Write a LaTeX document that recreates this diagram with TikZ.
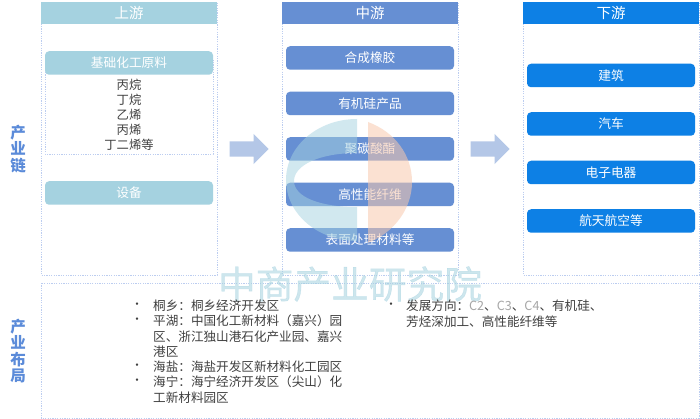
\documentclass[tikz,border=0pt]{standalone}
\usepackage{fontspec}
\setmainfont{Noto Sans CJK SC}
\newfontfamily\wmfont[FakeBold=0.8]{Noto Sans CJK SC}
\usetikzlibrary{shapes.arrows}
\definecolor{cUp}{HTML}{A5D2E0}
\definecolor{cMid}{HTML}{668FD3}
\definecolor{cDown}{HTML}{0D80E5}
\definecolor{cDash}{HTML}{BCCDF0}
\definecolor{cArrow}{HTML}{B4C7E7}
\definecolor{cSide}{HTML}{5B8BD9}
\definecolor{cText}{HTML}{404040}
\definecolor{cGrey}{HTML}{A6A6A6}
\definecolor{cMark}{HTML}{A5D2E0}
\definecolor{cOrange}{HTML}{F8C9AE}
\tikzset{
  panel/.style={draw=cDash,dash pattern=on 1.2pt off 1.2pt,line width=.6pt},
  head/.style={minimum width=176pt,minimum height=22pt,inner sep=0pt,text=white,font=\fontsize{14.5}{15}\selectfont},
  pill/.style={rounded corners=4pt,minimum width=168pt,minimum height=23.5pt,inner sep=0pt,text=white,font=\fontsize{12.7}{14}\selectfont},
  flow/.style={single arrow,fill=cArrow,minimum width=30pt,minimum height=39pt,single arrow head extend=7.5pt,single arrow tip angle=90,inner xsep=0pt,inner ysep=7.5pt,shape border uses incircle=false,anchor=tip},
  side/.style={text=cSide,font=\bfseries\fontsize{15.5}{16.5}\selectfont,align=center,inner sep=0pt},
  body/.style={text=cText,font=\fontsize{12.6}{15.2}\selectfont,align=left,inner sep=0pt,anchor=north west},
  dotm/.style={text=cText,font=\fontsize{11.5}{15}\selectfont,inner sep=0pt},
}
\begin{document}
\begin{tikzpicture}[x=1pt,y=-1pt]
\useasboundingbox (0,0) rectangle (700,419);
\fill[white] (0,0) rectangle (700,419);
% panels
\draw[panel] (41,2) rectangle (217,275);
\draw[panel] (282,2) rectangle (458,275);
\draw[panel] (523,2) rectangle (699,275);
\draw[panel] (41,283) rectangle (699,418);
\draw[panel] (45,60) rectangle (213,154);
% headers
\node[head,fill=cUp] (hu) at (129,13) {上游};
\node[head,fill=cMid] (hm) at (370,13) {中游};
\node[head,fill=cDown] (hd) at (611,13) {下游};
% upstream
\node[pill,fill=cUp] (u1) at (129,63) {基础化工原料};
\node[text=cText,font=\fontsize{12.3}{15}\selectfont,align=center,inner sep=0pt,anchor=north] (u1t) at (129,78.5) {丙烷\\丁烷\\乙烯\\丙烯\\丁二烯等};
\node[pill,fill=cUp] (u2) at (129,193) {设备};
% midstream
\node[pill,fill=cMid] (m1) at (370,58) {合成橡胶};
\node[pill,fill=cMid] (m2) at (370,103.5) {有机硅产品};
\node[pill,fill=cMid] (m3) at (370,149) {聚碳酸酯};
\node[pill,fill=cMid] (m4) at (370,194.5) {高性能纤维};
\node[pill,fill=cMid] (m5) at (370,240) {表面处理材料等};
% downstream
\node[pill,fill=cDown] (d1) at (611,75.5) {建筑};
\node[pill,fill=cDown] (d2) at (611,124) {汽车};
\node[pill,fill=cDown] (d3) at (611,172.5) {电子电器};
\node[pill,fill=cDown] (d4) at (611,221) {航天航空等};
% arrows
\node[flow] (a1) at (269,149) {};
\node[flow] (a2) at (510,149) {};
% logo
\fill[cMark,opacity=.5]
  (357,119) .. controls (318,119) and (286,146) .. (286,180) .. controls (286,214) and (318,241) .. (357,241)
  -- (357,207) .. controls (320,207) and (294,197) .. (294,181) .. controls (294,165) and (320,153) .. (357,153) -- cycle;
\fill[cOrange,opacity=.55]
  (368,122) .. controls (395,132) and (412,155) .. (412,182) .. controls (412,208) and (395,232) .. (368,243) -- cycle;
% watermark
\node[text=cMark,opacity=.55,font=\wmfont\fontsize{37.7}{38}\selectfont,inner sep=0pt] (wm) at (350,284) {中商产业研究院};
% side labels
\node[side] (s1) at (18,149) {产\\业\\链};
\node[side] (s2) at (18,351) {产\\业\\布\\局};
% bullets
\node[dotm] (b1) at (137,306) {•};
\node[body] (t1) at (153,300) {桐乡：桐乡经济开发区};
\node[dotm] (b2) at (137,321) {•};
\node[body,text width=210pt] (t2) at (153,315) {平湖：中国化工新材料（嘉兴）园\\区、浙江独山港石化产业园、嘉兴\\港区};
\node[dotm] (b3) at (137,367) {•};
\node[body] (t3) at (153,361) {海盐：海盐开发区新材料化工园区};
\node[dotm] (b4) at (137,382) {•};
\node[body,text width=210pt] (t4) at (153,376) {海宁：海宁经济开发区（尖山）化\\工新材料园区};
\node[dotm] (b5) at (391,306) {•};
\node[body] (t5) at (406,300) {发展方向：{\color{cGrey}C2}、{\color{cGrey}C3}、{\color{cGrey}C4}、有机硅、\\芳烃深加工、高性能纤维等};
\end{tikzpicture}
\end{document}
